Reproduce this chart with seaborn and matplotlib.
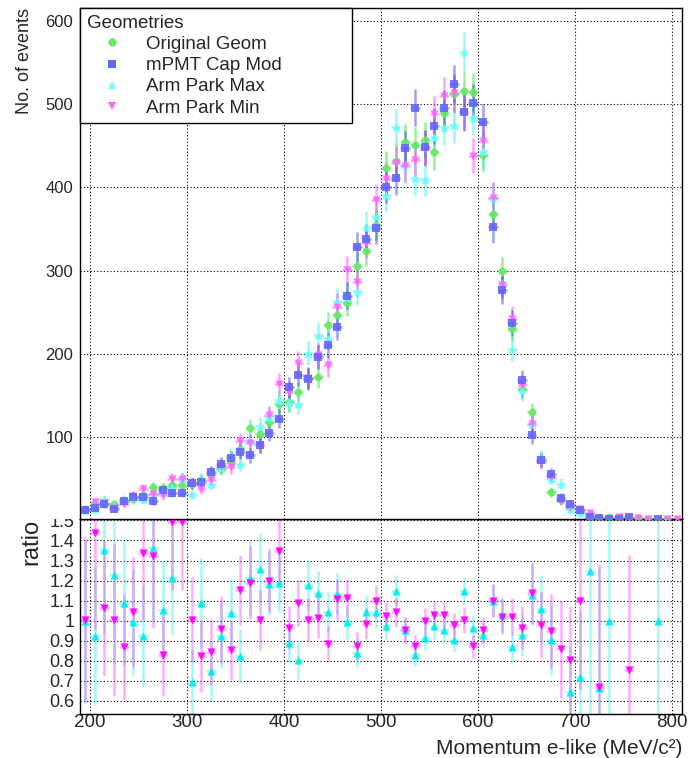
import numpy as np
import pandas as pd
import matplotlib
matplotlib.use("Agg")
import matplotlib.pyplot as plt
from matplotlib.lines import Line2D
from matplotlib.patches import Rectangle
from matplotlib.ticker import MultipleLocator, FixedLocator
import seaborn as sns

# -------------------------------
# Data (10 MeV bins, 190 - 810 MeV)
# -------------------------------
momentum = np.arange(195, 806, 10)

original_geom = [13, 20, 20, 20, 23, 25, 30, 40, 39, 42, 42, 44, 48, 56, 62, 70, 85, 111, 104, 118,
                 140, 142, 154, 171, 172, 235, 247, 261, 305, 324, 355, 423, 432, 455, 451, 457, 442,
                 489, 512, 516, 515, 439, 368, 299, 230, 158, 130, 72, 34, 24, 16, 10, 5, 3, 4, 2,
                 3, 3, 1, 2, 1, 0]
mpmt_cap_mod = [12, 15, 19, 14, 23, 28, 28, 23.5, 36, 33, 33, 44.5, 45.5, 57.5, 68, 74.5, 82, 78, 90,
                105, 122, 160, 174, 170, 196, 210, 232, 270, 328, 338, 351, 401, 411, 447, 496, 448,
                474, 495, 524, 490, 502, 478, 352, 277, 237, 168, 102, 72, 55, 27, 20, 12, 4, 3, 1,
                2, 4, 0, 0, 1, 0, 0]
arm_park_max = [12, 14, 25.6, 17.2, 25, 27.8, 25.9, 32, 38, 40.1, 51, 30.9, 49.5, 43.1, 62.9, 77.5,
                67.6, 94.8, 113.4, 124.3, 144.8, 142.4, 139.7, 200.6, 223, 219, 263, 268.4, 275.5,
                352.5, 366, 390.6, 472.7, 426.9, 411.7, 410.4, 460.7, 472.7, 474.7, 562.5, 484.4,
                444, 387, 285, 206, 156, 115, 76, 50, 44, 13, 8.6, 5, 2, 1, 0, 0, 0, 0, 1, 0, 0]
arm_park_min = [12, 21.6, 20.2, 14.1, 20, 29.2, 37.5, 31.1, 29.9, 49.2, 49.2, 44.7, 37.5, 48.5, 65.1,
                63.5, 94.6, 92.8, 90.5, 126, 164.2, 154.6, 189.3, 170.9, 199, 186, 256.6, 300.5,
                286.3, 333, 384.7, 409.8, 428.7, 425.5, 433, 446.7, 488, 510, 513.5, 491, 438, 455.5,
                387, 282.5, 241.7, 162, 115.9, 70.4, 52, 23, 16, 13.2, 9, 2, 0, 4, 3, 3, 2, 0, 2, 2]

nan = np.nan
# ratio to mPMT Cap Mod (points outside the 0.535-1.5 window left as nan)
ratio_max = [0.997, 0.925, 1.35, 1.226, 1.088, 0.993, 0.925, 1.362, 1.055, 1.215, nan, 0.695, 1.088,
             0.75, 0.925, 1.04, 0.824, 1.215, 1.26, 1.184, 1.187, 0.89, 0.803, 1.18, 1.138, 1.043,
             1.134, 0.994, 0.84, 1.043, 1.043, 0.974, 1.15, 0.955, 0.83, 0.916, 0.972, 0.955, 0.906,
             1.148, 0.965, 0.929, 1.1, 1.03, 0.87, 0.929, 1.13, 1.056, 0.904, nan, 0.643, 0.72, 1.25,
             0.663, 1.0, nan, nan, nan, nan, 1.0, nan, nan]
ratio_min = [1.005, 1.438, 1.063, 1.005, 0.869, 1.043, 1.34, 1.325, 0.83, 1.49, 1.49, 1.005, 0.824,
             0.844, 0.957, 0.852, 1.154, 1.19, 1.005, 1.2, 1.346, 0.966, 1.088, 1.005, 1.015, 0.886,
             1.106, 1.113, 0.873, 0.985, 1.096, 1.022, 1.043, 0.952, 0.873, 0.997, 1.03, 1.03, 0.98,
             1.002, 0.873, 0.953, 1.1, 1.02, 1.02, 0.965, 1.136, 0.978, 0.948, 0.857, 0.804, 1.098,
             nan, 0.67, nan, nan, 0.754, nan, nan, nan, nan, nan]

labels = ["Original Geom", "mPMT Cap Mod", "Arm Park Max", "Arm Park Min"]
marker_colors = {"Original Geom": "#66ea66", "mPMT Cap Mod": "#6666ff",
                 "Arm Park Max": "#66ffff", "Arm Park Min": "#ff66ff"}
bar_colors = {"Original Geom": "#22dd22", "mPMT Cap Mod": "#3030ee",
              "Arm Park Max": "#22eeee", "Arm Park Min": "#ff33ff"}
markers = {"Original Geom": "o", "mPMT Cap Mod": "s", "Arm Park Max": "^", "Arm Park Min": "v"}
sizes = {"Original Geom": 32, "mPMT Cap Mod": 40, "Arm Park Max": 34, "Arm Park Min": 34}

df = pd.DataFrame({
    "momentum": np.tile(momentum, 4),
    "events": np.concatenate([original_geom, mpmt_cap_mod, arm_park_max, arm_park_min]).astype(float),
    "geometry": np.repeat(labels, len(momentum)),
})

# -------------------------------
# Style
# -------------------------------
sns.set_theme(style="white")
plt.rcParams["font.family"] = ["Liberation Sans", "DejaVu Sans"]
plt.rcParams["mathtext.default"] = "regular"
plt.rcParams["axes.edgecolor"] = "black"
plt.rcParams["axes.linewidth"] = 1.0

fig = plt.figure(figsize=(6.92, 7.58), dpi=100)
W, H = 692.0, 758.0
ax_r = fig.add_axes([80 / W, 1 - 714 / H, 602 / W, 195 / H])
ax = fig.add_axes([80 / W, 1 - 519 / H, 602 / W, 511 / H])

# -------------------------------
# Upper panel: event counts
# -------------------------------
draw_order = ["Original Geom", "Arm Park Max", "Arm Park Min", "mPMT Cap Mod"]
for name in draw_order:
    sub = df[(df["geometry"] == name) & (df["events"] > 0)]
    ax.errorbar(sub["momentum"], sub["events"], xerr=5, yerr=np.sqrt(sub["events"]),
                fmt="none", ecolor=bar_colors[name], alpha=0.45, elinewidth=1.8, capsize=0, zorder=2)
    sns.scatterplot(x=sub["momentum"], y=sub["events"], color=marker_colors[name],
                    marker=markers[name], s=sizes[name], alpha=0.9, linewidth=0, ax=ax,
                    legend=False, zorder=3)

ax.set_xlim(190, 810)
ax.set_ylim(1.4, 615.6)
ax.xaxis.set_major_locator(MultipleLocator(100))
ax.xaxis.set_minor_locator(MultipleLocator(20))
ax.yaxis.set_major_locator(MultipleLocator(100))
ax.yaxis.set_minor_locator(MultipleLocator(20))
ax.grid(True, which="major", color="black", linestyle=(0, (1, 2)), linewidth=0.8)
ax.tick_params(axis="x", which="major", direction="in", length=11, labelbottom=False, width=1, color="black")
ax.tick_params(axis="x", which="minor", direction="in", length=5.5, width=1, color="black")
ax.tick_params(axis="y", which="major", direction="in", length=13, width=1, labelsize=12, pad=5, color="black")
ax.tick_params(axis="y", which="minor", direction="in", length=6.5, width=1, color="black")
ax.set_xlabel("")
ax.set_ylabel("No. of events", loc="top", fontsize=13, labelpad=9)

handles = [Line2D([], [], linestyle="none", marker=markers[n], color=marker_colors[n],
                  markersize=6, markeredgewidth=0) for n in labels]
leg = ax.legend(handles, labels, title="Geometries", loc="upper left",
                bbox_to_anchor=(0, 0.5, 0.452, 0.5), mode="expand", borderaxespad=0,
                frameon=True, fancybox=False, edgecolor="black", framealpha=1,
                alignment="left", fontsize=13.5, title_fontsize=13.5, handlelength=2.7,
                handletextpad=0.45, labelspacing=0.22, borderpad=0.35)
leg.get_frame().set_linewidth(1.0)
leg.set_zorder(10)

# -------------------------------
# Lower panel: ratio to mPMT Cap Mod
# -------------------------------
blue = np.array(mpmt_cap_mod, dtype=float)
ratio_marker = {"Arm Park Max": "#00eeee", "Arm Park Min": "#ff00ff"}
for name, counts, ratio in [("Arm Park Max", arm_park_max, ratio_max),
                            ("Arm Park Min", arm_park_min, ratio_min)]:
    r = np.array(ratio, dtype=float)
    c = np.array(counts, dtype=float)
    ok = ~np.isnan(r)
    err = r[ok] * np.sqrt(1.0 / c[ok] + 1.0 / blue[ok])
    ax_r.errorbar(momentum[ok], r[ok], xerr=5, yerr=err, fmt="none", ecolor=bar_colors[name],
                  alpha=0.4, elinewidth=1.8, capsize=0, zorder=2)
    sns.scatterplot(x=momentum[ok], y=r[ok], color=ratio_marker[name], marker=markers[name], s=34,
                    alpha=0.95, linewidth=0, ax=ax_r, legend=False, zorder=3)

ax_r.set_xlim(190, 810)
ax_r.set_ylim(0.535, 1.507)
ax_r.xaxis.set_major_locator(MultipleLocator(100))
ax_r.xaxis.set_minor_locator(MultipleLocator(20))
ax_r.yaxis.set_major_locator(FixedLocator([0.6, 0.7, 0.8, 0.9, 1.0, 1.1, 1.2, 1.3, 1.4, 1.5]))
ax_r.yaxis.set_minor_locator(MultipleLocator(0.02))
ax_r.set_yticklabels(["0.6", "0.7", "0.8", "0.9", "1", "1.1", "1.2", "1.3", "1.4", "1.5"])
ax_r.grid(True, which="major", color="black", linestyle=(0, (1, 2)), linewidth=0.8)
ax_r.tick_params(axis="x", which="major", direction="in", length=7, width=1, labelsize=13.5, pad=0, color="black")
ax_r.tick_params(axis="x", which="minor", direction="in", length=3.5, width=1, color="black")
ax_r.tick_params(axis="y", which="major", direction="in", length=13, width=1, labelsize=13, pad=4, color="black")
ax_r.tick_params(axis="y", which="minor", direction="in", length=6, width=1, color="black")
ax_r.set_ylabel("ratio", loc="top", fontsize=17, labelpad=5)
ax_r.set_xlabel("")
fig.text(682 / W, 0.5 / H, "Momentum e-like (MeV/c\u00b2)", ha="right", va="bottom", fontsize=15)

# upper pad hides the top half of the "1.5" label, as in the original
fig.patches.append(Rectangle((0, 1 - 519 / H), 79 / W, 14 / H, transform=fig.transFigure,
                             facecolor="white", edgecolor="none", zorder=1))

fig.savefig("out.png", dpi=100)
